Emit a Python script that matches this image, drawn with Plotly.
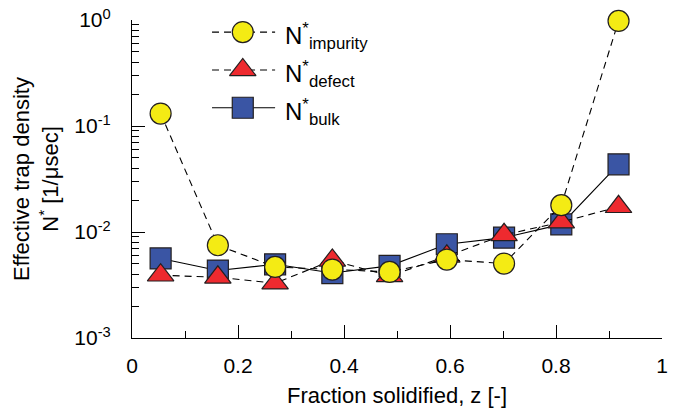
import plotly.graph_objects as go

# ---- data ----
z = [0.054, 0.162, 0.270, 0.378, 0.486, 0.594, 0.702, 0.810, 0.918]
n_bulk = [0.00563, 0.00433, 0.00496, 0.0041, 0.00479, 0.00766, 0.00885, 0.0118, 0.0435]
n_defect = [0.00391, 0.00374, 0.00329, 0.0054, 0.00385, 0.0059, 0.0094, 0.0124, 0.0173]
n_impurity = [0.131, 0.0075, 0.00468, 0.00442, 0.0042, 0.00549, 0.00504, 0.0179, 0.98]

series_names = ["impurity", "defect", "bulk"]
series_values = {"impurity": n_impurity, "defect": n_defect, "bulk": n_bulk}
series_colors = {"impurity": "#F4EB14", "defect": "#EE2A2F", "bulk": "#3A55A4"}
series_symbols = {"impurity": "circle", "defect": "triangle-up", "bulk": "square"}
series_sizes = {"impurity": 21, "defect": 23, "bulk": 21}
series_dash = {"impurity": "7px,5px", "defect": "7px,5px", "bulk": "solid"}

y_tickvals = [0.001, 0.01, 0.1, 1]
y_ticktext = ["10<sup>-3</sup>", "10<sup>-2</sup>", "10<sup>-1</sup>", "10<sup>0</sup>"]
y_minor = [k * 10 ** e for e in (-3, -2, -1) for k in range(2, 10)]

FONT = "Liberation Sans, Arial, sans-serif"
EDGE = "#231F20"

fig = go.Figure()

# draw order: bulk (bottom), defect, impurity (top)
for name in ["bulk", "defect", "impurity"]:
    fig.add_trace(go.Scatter(
        x=z, y=series_values[name], mode="lines+markers", name="N* " + name,
        line=dict(color="black", width=1.1, dash=series_dash[name]),
        marker=dict(symbol=series_symbols[name], size=series_sizes[name],
                    color=series_colors[name], line=dict(color=EDGE, width=1.2)),
        cliponaxis=False, showlegend=False, xaxis="x", yaxis="y",
    ))

# ---- custom legend (layout positions in plot-area fractions) ----
LEG_SYM_X = 0.209
LEG_LINE_X0, LEG_LINE_X1 = 0.151, 0.270
LEG_TEXT_X = 0.284
LEG_Y0, LEG_DY = 0.962, 0.119
for i, name in enumerate(series_names):
    yy = LEG_Y0 - i * LEG_DY
    fig.add_trace(go.Scatter(
        x=[LEG_LINE_X0, LEG_LINE_X1], y=[yy, yy], mode="lines",
        line=dict(color="black", width=1.1, dash=series_dash[name]),
        xaxis="x2", yaxis="y2", showlegend=False, hoverinfo="skip", cliponaxis=False,
    ))
    fig.add_trace(go.Scatter(
        x=[LEG_SYM_X], y=[yy], mode="markers",
        marker=dict(symbol=series_symbols[name], size=series_sizes[name],
                    color=series_colors[name], line=dict(color=EDGE, width=1.2)),
        xaxis="x2", yaxis="y2", showlegend=False, hoverinfo="skip", cliponaxis=False,
    ))
    fig.add_annotation(
        x=LEG_TEXT_X, y=yy, xref="paper", yref="paper", xanchor="left", yanchor="middle",
        text="N<sup>*</sup><sub>" + name + "</sub>", showarrow=False,
        font=dict(family=FONT, size=24, color="black"), yshift=-4,
    )

fig.update_layout(
    width=677, height=408,
    margin=dict(l=132, r=15, t=20, b=70),
    paper_bgcolor="white", plot_bgcolor="white",
    font=dict(family=FONT, size=21, color="black"),
    showlegend=False,
    xaxis=dict(
        range=[0, 1], dtick=0.2, tick0=0, ticks="inside", ticklen=13, tickwidth=1.2,
        tickcolor="black", showline=True, linecolor="black", linewidth=1.2,
        showgrid=False, zeroline=False, ticklabelstandoff=9, automargin=False,
        ticklabeloverflow="allow", tickfont=dict(family=FONT, size=21),
        minor=dict(dtick=0.1, ticks="inside", ticklen=7, tickwidth=1.2, tickcolor="black", showgrid=False),
        title=dict(text="Fraction solidified, z [-]", font=dict(family=FONT, size=22), standoff=12),
    ),
    yaxis=dict(
        type="log", range=[-3, 0], tickmode="array", tickvals=y_tickvals, ticktext=y_ticktext,
        ticks="inside", ticklen=13, tickwidth=1.2, tickcolor="black",
        showline=True, linecolor="black", linewidth=1.2, showgrid=False, zeroline=False,
        ticklabelstandoff=16, automargin=False, ticklabeloverflow="allow",
        tickfont=dict(family=FONT, size=21),
        minor=dict(tickmode="array", tickvals=y_minor, ticks="inside", ticklen=7, tickwidth=1.2,
                   tickcolor="black", showgrid=False),
        title=dict(text="Effective trap density<br>N<sup>*</sup> [1/\u03bcsec]",
                   font=dict(family=FONT, size=22), standoff=9),
    ),
    xaxis2=dict(overlaying="x", range=[0, 1], visible=False, fixedrange=True),
    yaxis2=dict(overlaying="y", range=[0, 1], visible=False, fixedrange=True),
)

# remove the browser's default 8px page margin so the 677x408 figure fills the window
fig.write_html("out.html", config={"displayModeBar": False},
               post_script="document.body.style.margin='0';")
